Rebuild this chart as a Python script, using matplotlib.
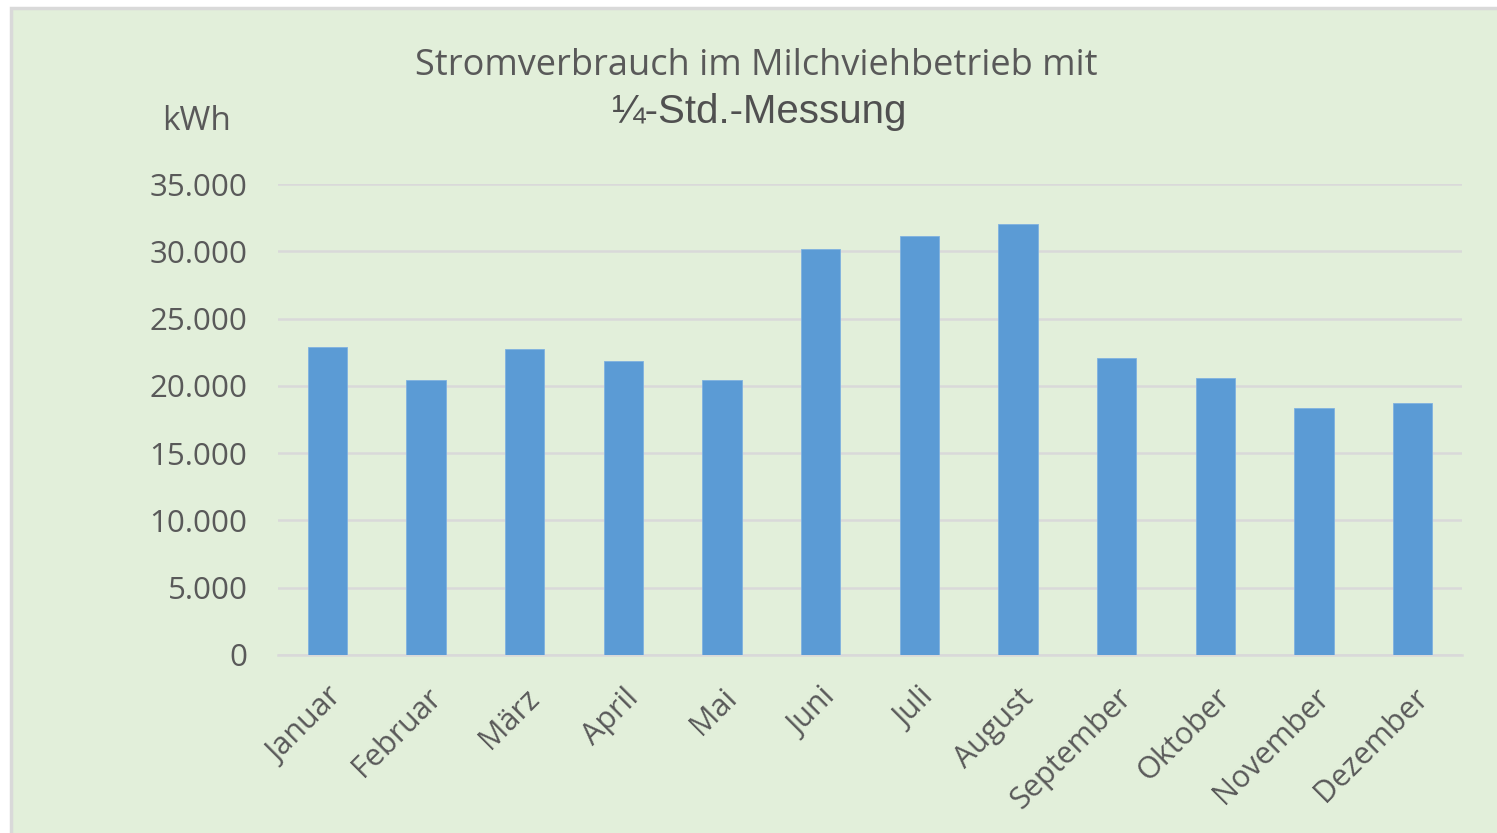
# Stromverbrauch im Milchviehbetrieb - monthly bar chart
import matplotlib
matplotlib.use("Agg")
import matplotlib.pyplot as plt
import matplotlib.transforms as mtransforms
from matplotlib.patches import Rectangle
from matplotlib.ticker import FuncFormatter, MultipleLocator

months = ['Januar', 'Februar', 'März', 'April', 'Mai', 'Juni', 'Juli',
          'August', 'September', 'Oktober', 'November', 'Dezember']
kwh = [22900, 20400, 22750, 21850, 20400, 30150, 31100,
       32000, 22100, 20600, 18350, 18750]

bg_color = '#e2efda'
bar_color = '#5b9bd5'
text_color = '#595959'
grid_color = '#d9d9d9'
font = 'Open Sans'

def de_thousands(v, pos):
    return f"{int(round(v)):,}".replace(",", ".")

W, H = 1497, 833
fig = plt.figure(figsize=(W / 100, H / 100), dpi=100, facecolor='white')

# chart area background with thin grey frame
fig.patches.append(Rectangle((11 / W, -0.01), 1.02, 1 - 8 / H + 0.01,
                             transform=fig.transFigure, facecolor=bg_color,
                             edgecolor=grid_color, linewidth=2.5, zorder=-5))

ax = fig.add_axes([278 / W, 1 - 655 / H, (1462 - 278) / W, (655 - 184) / H])
ax.set_facecolor('none')

x = range(len(months))
ax.bar(x, kwh, width=0.40, color=bar_color, edgecolor='#7fb2e0',
       linewidth=0.6, zorder=3)

ax.set_xlim(-0.5, len(months) - 0.5)
ax.set_ylim(0, 35000)
ax.yaxis.set_major_locator(MultipleLocator(5000))
ax.yaxis.set_major_formatter(FuncFormatter(de_thousands))
ax.grid(axis='y', color=grid_color, linewidth=1.8, zorder=0)
ax.set_axisbelow(True)

for s in ['top', 'right', 'left']:
    ax.spines[s].set_visible(False)
ax.spines['bottom'].set_color(grid_color)
ax.spines['bottom'].set_linewidth(1.8)

ax.tick_params(axis='both', length=0, colors=text_color)
ax.tick_params(axis='y', pad=22)
ax.set_xticks(list(x))
ax.set_xticklabels(months, rotation=45, ha='right', rotation_mode='anchor',
                   fontsize=22, family=font, color=text_color)
# nudge the rotated month labels a bit to the left
shift = mtransforms.ScaledTranslation(-6 / 100, 0, fig.dpi_scale_trans)
for lbl in ax.get_xticklabels():
    lbl.set_transform(lbl.get_transform() + shift)
for lbl in ax.get_yticklabels():
    lbl.set_fontsize(22.5)
    lbl.set_family(font)
    lbl.set_color(text_color)
ax.tick_params(axis='x', pad=20)

# title in two lines, second one in a different font
fig.text(756 / W, 1 - 66 / H, 'Stromverbrauch im Milchviehbetrieb mit',
         ha='center', va='center', fontsize=26, family=font, color=text_color)
fig.text(760 / W, 1 - 112 / H, '¼-Std.-Messung', ha='center', va='center',
         fontsize=29, family='Liberation Sans', color='#505050')
fig.text(197 / W, 1 - 122 / H, 'kWh', ha='center', va='center',
         fontsize=24, family=font, color=text_color)

plt.savefig('out.png', dpi=100, facecolor=fig.get_facecolor())
plt.close()
